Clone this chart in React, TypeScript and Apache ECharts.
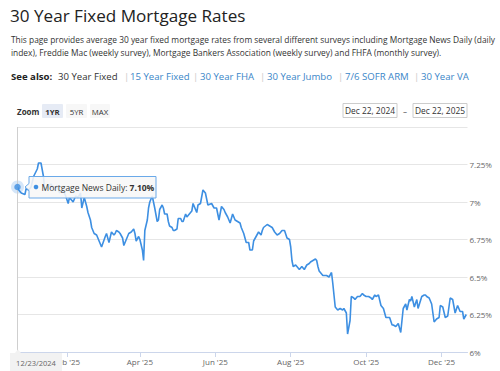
import React, { useEffect, useRef } from 'react';
import * as echarts from 'echarts';

const title = '30 Year Fixed Mortgage Rates';
const descLines = [
  'This page provides average 30 year fixed mortgage rates from several different surveys including Mortgage News Daily (daily',
  'index), Freddie Mac (weekly survey), Mortgage Bankers Association (weekly survey) and FHFA (monthly survey).',
];
const seeAlsoLabel = 'See also:';
const seeAlsoLinks = ['30 Year Fixed', '15 Year Fixed', '30 Year FHA', '30 Year Jumbo', '7/6 SOFR ARM', '30 Year VA'];
const zoomButtons = ['1YR', '5YR', 'MAX'];
const rangeInputs = ['Dec 22, 2024', 'Dec 22, 2025'];
const seriesName = 'Mortgage News Daily';

const dates = [
  '2024-12-23', '2024-12-24', '2024-12-26', '2024-12-29', '2024-12-30',
  '2025-01-01', '2025-01-03', '2025-01-05', '2025-01-08', '2025-01-09', '2025-01-11', '2025-01-13', '2025-01-14',
  '2025-01-17', '2025-01-19', '2025-01-22', '2025-01-24', '2025-01-26', '2025-01-29', '2025-01-31',
  '2025-02-02', '2025-02-03', '2025-02-06', '2025-02-08', '2025-02-10', '2025-02-12', '2025-02-13', '2025-02-15',
  '2025-02-17', '2025-02-18', '2025-02-20', '2025-02-21', '2025-02-23', '2025-02-25', '2025-02-27',
  '2025-03-01', '2025-03-04', '2025-03-05', '2025-03-07', '2025-03-09', '2025-03-11', '2025-03-12', '2025-03-13',
  '2025-03-15', '2025-03-16', '2025-03-18', '2025-03-19', '2025-03-21', '2025-03-23', '2025-03-25', '2025-03-27',
  '2025-03-28', '2025-03-29', '2025-03-31',
  '2025-04-01', '2025-04-03', '2025-04-04', '2025-04-05', '2025-04-07', '2025-04-08', '2025-04-09', '2025-04-11',
  '2025-04-12', '2025-04-13', '2025-04-15', '2025-04-16', '2025-04-17', '2025-04-19', '2025-04-20', '2025-04-21',
  '2025-04-23', '2025-04-24', '2025-04-25', '2025-04-27', '2025-04-28', '2025-04-29',
  '2025-05-01', '2025-05-02', '2025-05-04', '2025-05-05', '2025-05-06', '2025-05-08', '2025-05-09', '2025-05-10',
  '2025-05-12', '2025-05-13', '2025-05-14', '2025-05-17', '2025-05-18', '2025-05-20', '2025-05-22', '2025-05-24',
  '2025-05-25', '2025-05-26', '2025-05-29', '2025-05-31',
  '2025-06-02', '2025-06-04', '2025-06-06', '2025-06-08', '2025-06-09', '2025-06-11', '2025-06-13', '2025-06-14',
  '2025-06-15', '2025-06-17', '2025-06-19', '2025-06-21', '2025-06-22', '2025-06-24', '2025-06-26', '2025-06-28',
  '2025-06-29',
  '2025-07-01', '2025-07-02', '2025-07-04', '2025-07-06', '2025-07-08', '2025-07-09', '2025-07-10', '2025-07-13',
  '2025-07-15', '2025-07-17', '2025-07-19', '2025-07-21', '2025-07-23', '2025-07-25', '2025-07-27', '2025-07-29',
  '2025-07-31',
  '2025-08-01', '2025-08-02', '2025-08-03', '2025-08-05', '2025-08-07', '2025-08-08', '2025-08-10', '2025-08-12',
  '2025-08-14', '2025-08-16', '2025-08-17', '2025-08-19', '2025-08-21', '2025-08-22', '2025-08-23', '2025-08-24',
  '2025-08-26', '2025-08-27', '2025-08-29', '2025-08-30',
  '2025-09-01', '2025-09-03', '2025-09-04', '2025-09-06', '2025-09-08', '2025-09-10', '2025-09-12', '2025-09-13',
  '2025-09-15', '2025-09-16', '2025-09-18', '2025-09-19', '2025-09-21', '2025-09-22', '2025-09-24', '2025-09-26',
  '2025-09-28', '2025-09-29',
  '2025-10-01', '2025-10-02', '2025-10-03', '2025-10-05', '2025-10-06', '2025-10-08', '2025-10-09', '2025-10-11',
  '2025-10-13', '2025-10-15', '2025-10-17', '2025-10-20', '2025-10-22', '2025-10-23', '2025-10-25', '2025-10-26',
  '2025-10-27', '2025-10-29', '2025-10-31',
  '2025-11-02', '2025-11-03', '2025-11-05', '2025-11-06', '2025-11-07', '2025-11-09', '2025-11-11', '2025-11-12',
  '2025-11-15', '2025-11-17', '2025-11-18', '2025-11-19', '2025-11-21', '2025-11-23', '2025-11-25', '2025-11-27',
  '2025-11-29', '2025-11-30',
  '2025-12-02', '2025-12-04', '2025-12-06', '2025-12-08', '2025-12-10', '2025-12-12', '2025-12-14', '2025-12-16',
  '2025-12-18', '2025-12-19', '2025-12-21',
];

const rates = [
  7.10, 7.08, 7.06, 7.05, 7.09,
  7.08, 7.10, 7.17, 7.22, 7.26, 7.26, 7.17, 7.08,
  7.10, 7.12, 7.08, 7.11, 7.06, 7.08, 7.04,
  6.99, 7.03, 7.00, 7.04, 7.03, 7.06, 6.96, 7.03,
  6.97, 6.93, 6.88, 6.83, 6.79, 6.78, 6.74,
  6.70, 6.77, 6.79, 6.73, 6.80, 6.78, 6.79, 6.81,
  6.80, 6.79, 6.76, 6.71, 6.75, 6.79, 6.80, 6.82,
  6.79, 6.74, 6.77,
  6.75, 6.68, 6.61, 6.81, 6.88, 6.96, 7.00, 7.04,
  7.00, 6.96, 6.87, 6.88, 6.95, 6.98, 6.96, 6.92,
  6.92, 6.87, 6.84, 6.83, 6.81, 6.81,
  6.82, 6.89, 6.89, 6.87, 6.87, 6.92, 6.90, 6.91,
  6.93, 6.94, 6.99, 6.93, 6.98, 6.99, 7.08, 7.06,
  7.02, 6.98, 6.99, 6.96,
  6.96, 6.88, 6.97, 6.95, 6.93, 6.90, 6.86, 6.89,
  6.92, 6.88, 6.87, 6.86, 6.83, 6.79, 6.73, 6.73,
  6.68,
  6.68, 6.74, 6.77, 6.80, 6.78, 6.81, 6.83, 6.85,
  6.84, 6.83, 6.80, 6.78, 6.79, 6.81, 6.81, 6.76,
  6.75,
  6.70, 6.61, 6.57, 6.58, 6.56, 6.55, 6.57, 6.55,
  6.58, 6.59, 6.60, 6.61, 6.62, 6.61, 6.57, 6.54,
  6.52, 6.51, 6.51, 6.51,
  6.50, 6.53, 6.46, 6.30, 6.28, 6.29, 6.28, 6.29,
  6.26, 6.12, 6.21, 6.37, 6.36, 6.35, 6.37, 6.37,
  6.39, 6.38,
  6.37, 6.37, 6.37, 6.36, 6.35, 6.38, 6.37, 6.38,
  6.31, 6.29, 6.23, 6.23, 6.18, 6.18, 6.17, 6.18,
  6.19, 6.13, 6.29,
  6.32, 6.28, 6.35, 6.34, 6.37, 6.30, 6.35, 6.29,
  6.37, 6.38, 6.38, 6.37, 6.36, 6.32, 6.20, 6.22,
  6.23, 6.31,
  6.30, 6.23, 6.24, 6.36, 6.35, 6.26, 6.31, 6.27,
  6.27, 6.22, 6.25,
];

const xMin = '2024-12-23';
const xMax = '2025-12-22';
const xLabelDates = ['2025-02-01', '2025-04-01', '2025-06-01', '2025-08-01', '2025-10-01', '2025-12-01'];
const yMin = 6;
const yMax = 7.5;
const yStep = 0.25;
const monthNames = ['Jan', 'Feb', 'Mar', 'Apr', 'May', 'Jun', 'Jul', 'Aug', 'Sep', 'Oct', 'Nov', 'Dec'];

const LINE = '#3d8fe2';
const FONT = '"Open Sans", sans-serif';

function parseLocal(s: string): number {
  const [y, m, d] = s.split('-').map(Number);
  return new Date(y, m - 1, d).getTime();
}

function fmtMDY(s: string): string {
  const [y, m, d] = s.split('-');
  return `${m}/${d}/${y}`;
}

export default function App() {
  const ref = useRef<HTMLDivElement>(null);

  useEffect(() => {
    if (!ref.current) return;
    const chart = echarts.init(ref.current, null, { renderer: 'svg' });

    const linkX = [58, 130, 200, 267, 345, 421];
    const sepX = [124, 193, 260, 338, 414];
    const graphics: any[] = [];

    graphics.push({
      type: 'text', x: 10, y: 15.5,
      style: { text: title, fontSize: 17.1, fontFamily: FONT, fill: '#222', verticalAlign: 'middle' },
    });
    descLines.forEach((t, i) => {
      graphics.push({
        type: 'text', x: 11, y: 39 + i * 13.5,
        style: { text: t, fontSize: 8.4, fontFamily: FONT, fill: '#333', verticalAlign: 'middle' },
      });
    });
    graphics.push({
      type: 'text', x: 11, y: 76,
      style: { text: seeAlsoLabel, fontSize: 9.6, fontWeight: 'bold', fontFamily: FONT, fill: '#222', verticalAlign: 'middle' },
    });
    seeAlsoLinks.forEach((t, i) => {
      graphics.push({
        type: 'text', x: linkX[i], y: 76,
        style: { text: t, fontSize: 9.6, fontFamily: FONT, fill: i === 0 ? '#333' : '#3a86c8', verticalAlign: 'middle' },
      });
    });
    sepX.forEach((x) => {
      graphics.push({
        type: 'text', x, y: 76,
        style: { text: '|', fontSize: 9.6, fontFamily: FONT, fill: '#c8c8c8', verticalAlign: 'middle' },
      });
    });

    // zoom buttons
    graphics.push({
      type: 'text', x: 17, y: 111.5,
      style: { text: 'Zoom', fontSize: 8, fontWeight: 'bold', fontFamily: FONT, fill: '#333', verticalAlign: 'middle' },
    });
    const btnX = [42, 66, 90];
    const btnW = [21, 21, 20];
    zoomButtons.forEach((t, i) => {
      graphics.push({
        type: 'rect', shape: { x: btnX[i], y: 104, width: btnW[i], height: 14, r: 1 },
        style: { fill: i === 0 ? '#e6ebf5' : '#f7f7f7' },
      });
      graphics.push({
        type: 'text', x: btnX[i] + btnW[i] / 2, y: 111.5,
        style: {
          text: t, fontSize: 7.8, fontFamily: FONT, fill: '#333', align: 'center', verticalAlign: 'middle',
          fontWeight: i === 0 ? 'bold' : 'normal',
        },
      });
    });

    // range inputs
    const inX = [343, 413];
    rangeInputs.forEach((t, i) => {
      graphics.push({
        type: 'rect', shape: { x: inX[i], y: 103.5, width: 54, height: 14 },
        style: { fill: '#fff', stroke: '#cccccc', lineWidth: 1 },
      });
      graphics.push({
        type: 'text', x: inX[i] + 27, y: 110.5,
        style: { text: t, fontSize: 8.4, fontFamily: FONT, fill: '#333', align: 'center', verticalAlign: 'middle' },
      });
    });
    graphics.push({
      type: 'text', x: 405, y: 110.5,
      style: { text: '\u2013', fontSize: 8, fontFamily: FONT, fill: '#333', align: 'center', verticalAlign: 'middle' },
    });

    // tooltip
    graphics.push({
      type: 'polygon', z: 50,
      shape: { points: [[29, 176.5], [156, 176.5], [156, 198], [29, 198], [29, 190.5], [25, 187], [29, 183.5]] },
      style: { fill: 'rgba(247,247,247,0.88)', stroke: '#6aa9e9', lineWidth: 1 },
    });
    graphics.push({
      type: 'circle', z: 51, shape: { cx: 36, cy: 187, r: 2.3 }, style: { fill: LINE },
    });
    graphics.push({
      type: 'text', z: 51, x: 41.5, y: 187.3,
      style: {
        text: `{a|${seriesName}: }{b|${rates[0].toFixed(2)}%}`,
        verticalAlign: 'middle',
        rich: {
          a: { fontSize: 8.5, fontFamily: FONT, fill: '#333' },
          b: { fontSize: 8.5, fontFamily: FONT, fill: '#333', fontWeight: 'bold' },
        },
      },
    });

    // x axis pointer label
    graphics.push({
      type: 'polygon', z: 50,
      shape: { points: [[10, 353], [15, 353], [18, 349.5], [21, 353], [62, 353], [62, 371], [10, 371]] },
      style: { fill: '#f2f2f2' },
    });
    graphics.push({
      type: 'text', z: 51, x: 36, y: 362.5,
      style: { text: fmtMDY(dates[0]), fontSize: 7.5, fontFamily: FONT, fill: '#666', align: 'center', verticalAlign: 'middle' },
    });

    const data = dates.map((d, i) => [parseLocal(d), rates[i]]);
    const tickVals = xLabelDates.map(parseLocal);

    chart.setOption({
      animation: false,
      textStyle: { fontFamily: FONT },
      grid: { left: 17.5, right: 32.5, top: 127, bottom: 19, containLabel: false },
      xAxis: {
        type: 'value',
        min: parseLocal(xMin),
        max: parseLocal(xMax),
        axisLine: { show: true, lineStyle: { color: '#ccd6eb' } },
        axisTick: { show: true, length: 5, lineStyle: { color: '#ccd6eb' }, customValues: tickVals },
        axisLabel: {
          customValues: tickVals,
          fontSize: 8,
          color: '#666',
          margin: 5,
          formatter: (v: number) => {
            const dt = new Date(v);
            return `${monthNames[dt.getMonth()]} '${String(dt.getFullYear()).slice(2)}`;
          },
        },
        splitLine: { show: false },
      },
      yAxis: {
        type: 'value',
        position: 'right',
        min: yMin,
        max: yMax,
        interval: yStep,
        axisLine: { show: false },
        axisTick: { show: false },
        splitLine: { show: true, lineStyle: { color: '#e6e6e6' } },
        axisLabel: {
          fontSize: 8,
          color: '#666',
          margin: 2,
          verticalAlign: 'middle',
          padding: [0, 0, 4, 0],
          formatter: (v: number) => (v >= yMax ? '' : `${v}%`),
        },
      },
      series: [
        {
          name: seriesName,
          type: 'line',
          data,
          showSymbol: false,
          symbol: 'none',
          lineStyle: { color: LINE, width: 1.6 },
          itemStyle: { color: LINE },
          markLine: {
            silent: true,
            symbol: ['none', 'none'],
            label: { show: false },
            lineStyle: { color: '#cfcfcf', type: 'solid', width: 1 },
            data: [{ xAxis: data[0][0] }],
          },
          z: 3,
        },
        {
          type: 'scatter',
          clip: false,
          silent: true,
          data: [data[0]],
          symbolSize: 13,
          itemStyle: { color: 'rgba(61,143,226,0.28)' },
          z: 4,
        },
        {
          type: 'scatter',
          clip: false,
          silent: true,
          data: [data[0]],
          symbolSize: 6.5,
          itemStyle: { color: LINE },
          z: 5,
        },
      ],
      graphic: graphics,
    });

    return () => chart.dispose();
  }, []);

  return (
    <div
      ref={ref}
      style={{ position: 'absolute', left: 0, top: 0, width: 500, height: 371, background: '#fff' }}
    />
  );
}
